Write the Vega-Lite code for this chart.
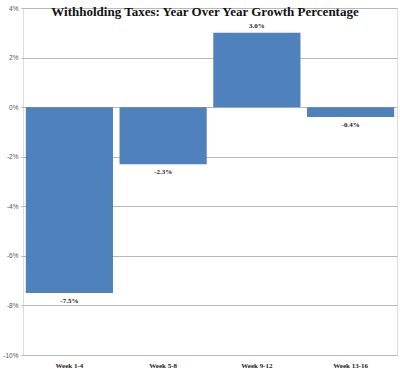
{
  "$schema": "https://vega.github.io/schema/vega-lite/v6.json",
  "width": 374,
  "height": 347,
  "autosize": "none",
  "padding": {"left": 23, "top": 8, "right": 3, "bottom": 16},
  "background": "white",
  "config": {
    "locale": {
      "number": {"decimal": ".", "thousands": ",", "grouping": [3], "currency": ["$", ""], "minus": "-"}
    }
  },
  "title": {
    "text": "Withholding Taxes: Year Over Year Growth Percentage",
    "font": "Liberation Serif",
    "fontSize": 13,
    "fontWeight": "bold",
    "color": "#111",
    "anchor": "middle",
    "offset": -14,
    "dx": -5
  },
  "data": {
    "values": [
      {"period": "Week 1-4", "growth": -0.075},
      {"period": "Week 5-8", "growth": -0.023},
      {"period": "Week 9-12", "growth": 0.030},
      {"period": "Week 13-16", "growth": -0.004}
    ]
  },
  "encoding": {
    "x": {
      "field": "period", "type": "nominal", "sort": null,
      "scale": {"paddingInner": 0.07, "paddingOuter": 0.03},
      "axis": {
        "title": null, "labelAngle": 0, "ticks": false, "domain": false,
        "labelFont": "Liberation Serif", "labelFontSize": 7, "labelFontWeight": "bold",
        "labelColor": "#222", "labelPadding": 6
      }
    },
    "y": {
      "field": "growth", "type": "quantitative",
      "scale": {"domain": [-0.1, 0.04], "nice": false},
      "axis": {
        "title": null, "values": [-0.1, -0.08, -0.06, -0.04, -0.02, 0, 0.02, 0.04],
        "format": ".0%", "domain": false, "ticks": true, "tickSize": 2, "tickColor": "#aaa",
        "gridColor": "#b8b8b8", "labelFont": "Liberation Sans", "labelFontSize": 6.5,
        "labelColor": "#555", "labelPadding": 3
      }
    }
  },
  "layer": [
    {"mark": {"type": "bar", "color": "#4F81BD"}},
    {
      "transform": [{"filter": "datum.growth >= 0"}],
      "mark": {"type": "text", "baseline": "bottom", "dy": -4, "font": "Liberation Serif", "fontSize": 7, "fontWeight": "bold", "color": "#222"},
      "encoding": {"text": {"field": "growth", "format": ".1%"}}
    },
    {
      "transform": [{"filter": "datum.growth < 0"}],
      "mark": {"type": "text", "baseline": "top", "dy": 4, "font": "Liberation Serif", "fontSize": 7, "fontWeight": "bold", "color": "#222"},
      "encoding": {"text": {"field": "growth", "format": ".1%"}}
    }
  ]
}
